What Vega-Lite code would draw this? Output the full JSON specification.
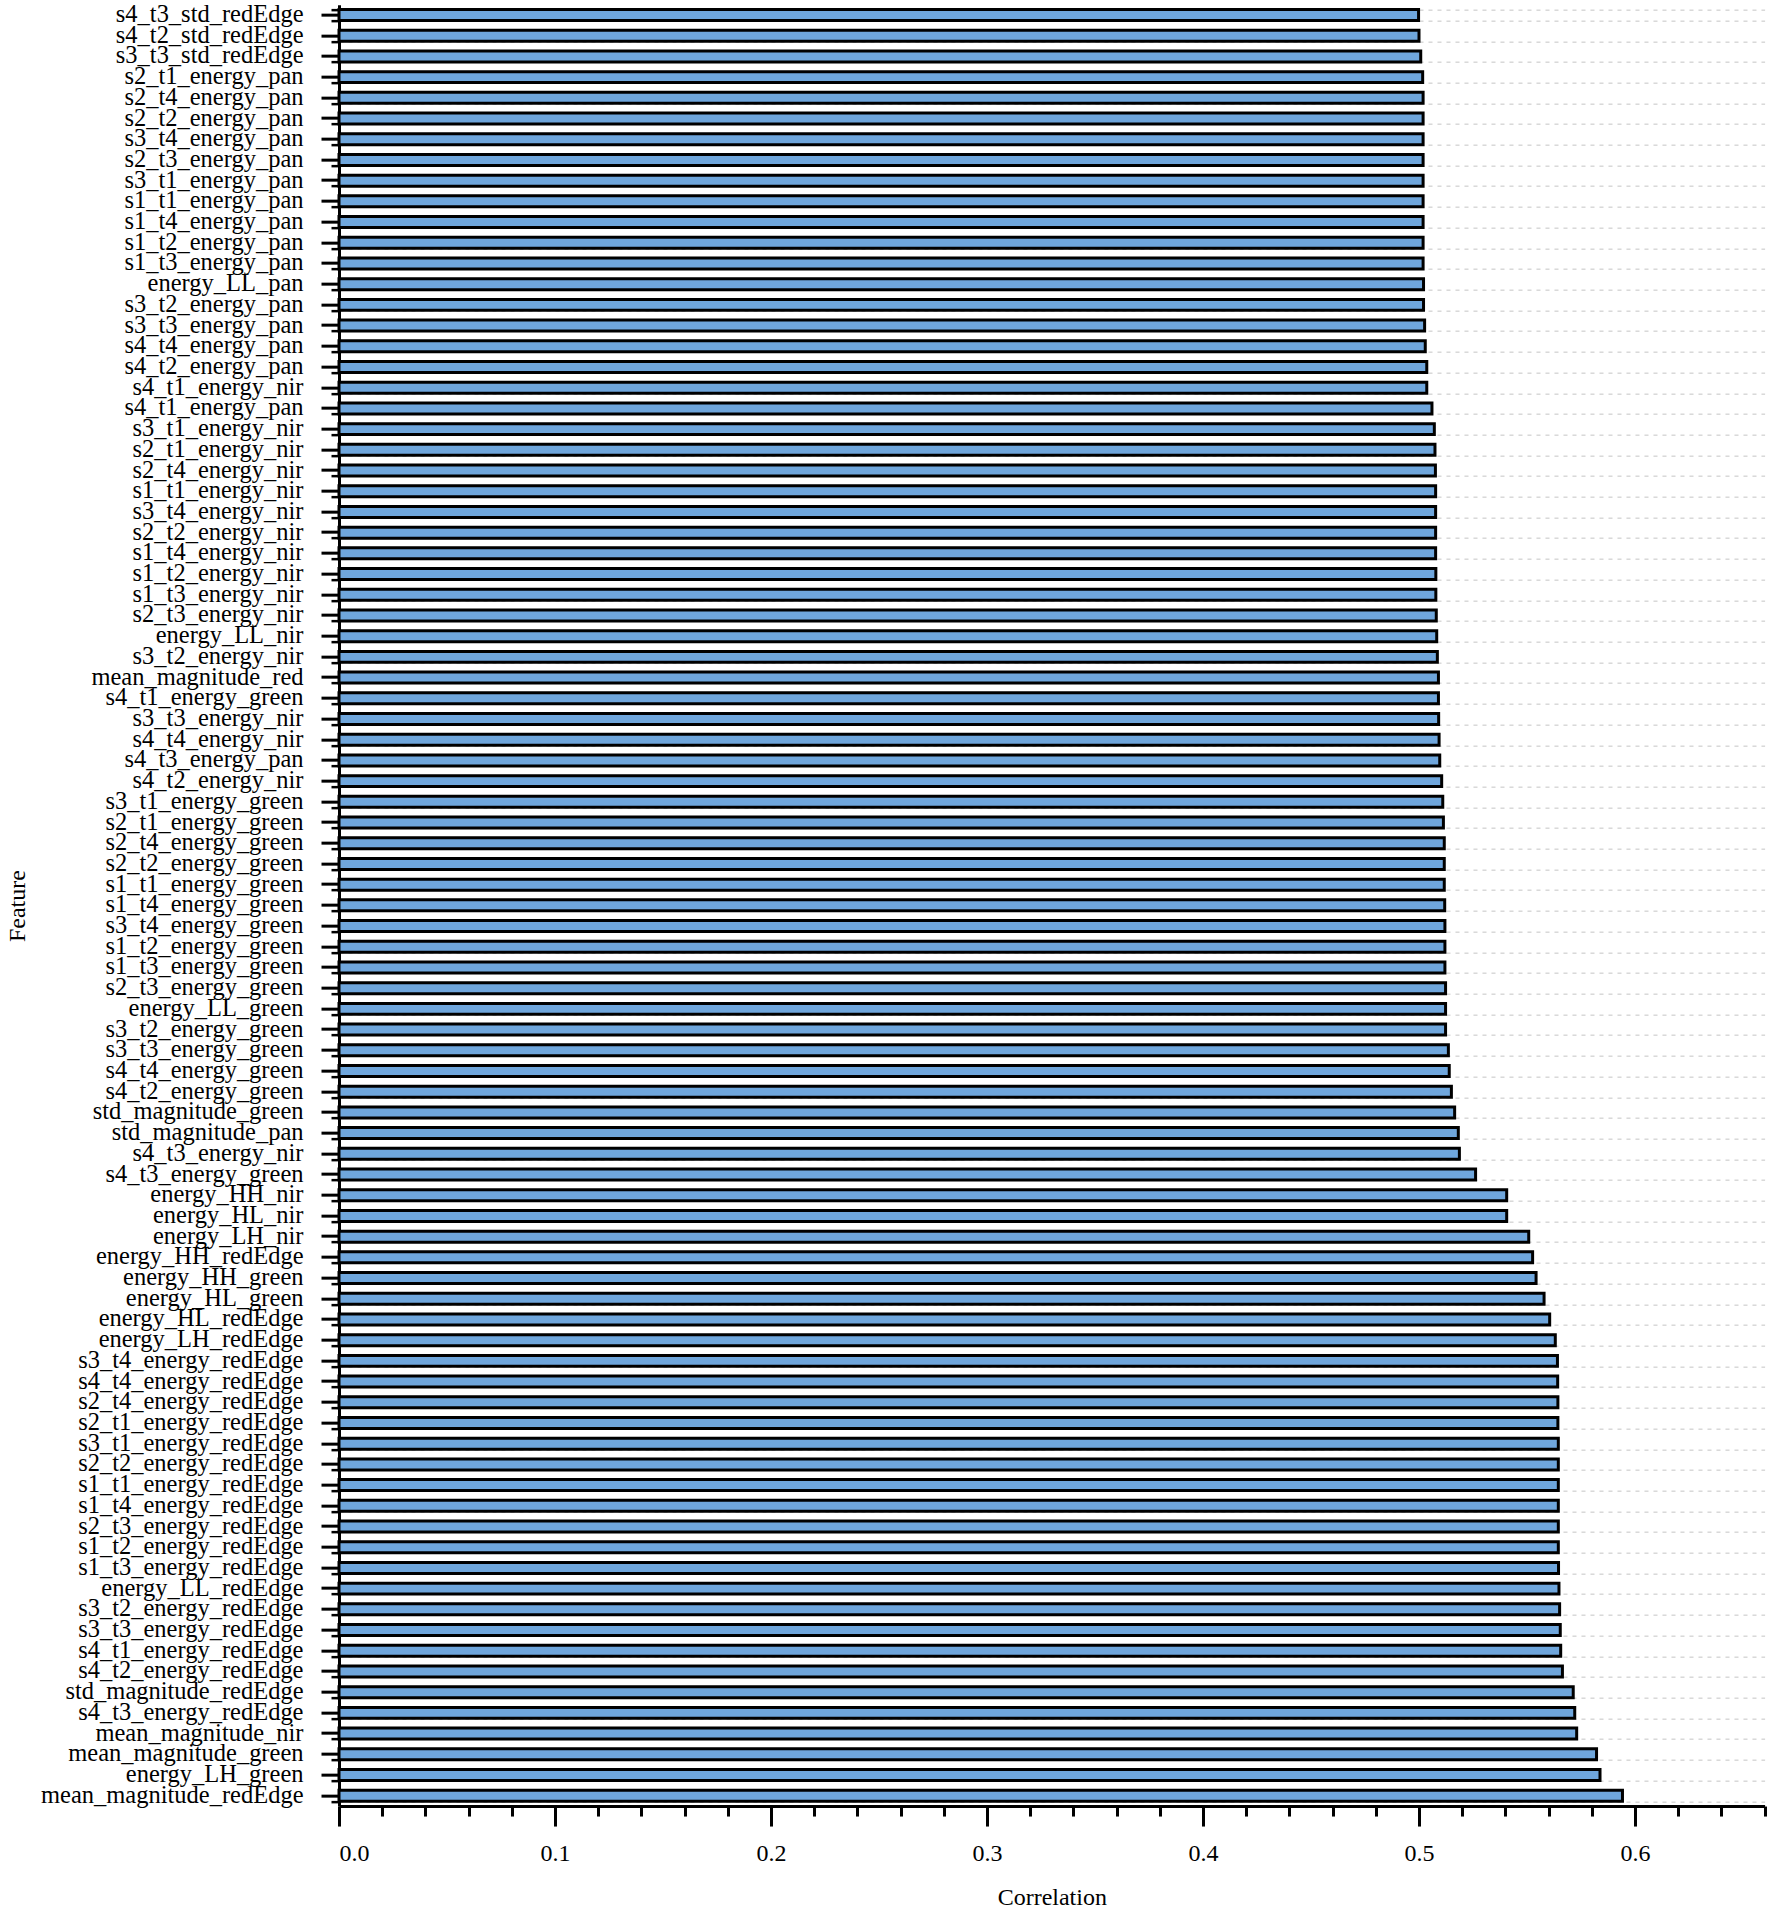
{
  "$schema": "https://vega.github.io/schema/vega-lite/v6.json",
  "autosize": {"type": "none"},
  "padding": {"left": 339, "top": 4.65, "right": 7.4, "bottom": 105},
  "width": 1425.6,
  "height": 1801.4,
  "background": "white",
  "config": {
    "view": {"stroke": null},
    "font": "Liberation Serif",
    "axis": {"labelFont": "Liberation Serif", "titleFont": "Liberation Serif", "labelColor": "black", "titleColor": "black", "tickColor": "black", "domainColor": "black"}
  },
  "data": {"values": [
    {"Feature": "s4_t3_std_redEdge", "Correlation": 0.4998},
    {"Feature": "s4_t2_std_redEdge", "Correlation": 0.5000},
    {"Feature": "s3_t3_std_redEdge", "Correlation": 0.5008},
    {"Feature": "s2_t1_energy_pan", "Correlation": 0.5017},
    {"Feature": "s2_t4_energy_pan", "Correlation": 0.5019},
    {"Feature": "s2_t2_energy_pan", "Correlation": 0.5019},
    {"Feature": "s3_t4_energy_pan", "Correlation": 0.5019},
    {"Feature": "s2_t3_energy_pan", "Correlation": 0.5019},
    {"Feature": "s3_t1_energy_pan", "Correlation": 0.5019},
    {"Feature": "s1_t1_energy_pan", "Correlation": 0.5019},
    {"Feature": "s1_t4_energy_pan", "Correlation": 0.5019},
    {"Feature": "s1_t2_energy_pan", "Correlation": 0.5019},
    {"Feature": "s1_t3_energy_pan", "Correlation": 0.5019},
    {"Feature": "energy_LL_pan", "Correlation": 0.5021},
    {"Feature": "s3_t2_energy_pan", "Correlation": 0.5021},
    {"Feature": "s3_t3_energy_pan", "Correlation": 0.5026},
    {"Feature": "s4_t4_energy_pan", "Correlation": 0.5029},
    {"Feature": "s4_t2_energy_pan", "Correlation": 0.5036},
    {"Feature": "s4_t1_energy_nir", "Correlation": 0.5036},
    {"Feature": "s4_t1_energy_pan", "Correlation": 0.5060},
    {"Feature": "s3_t1_energy_nir", "Correlation": 0.5071},
    {"Feature": "s2_t1_energy_nir", "Correlation": 0.5074},
    {"Feature": "s2_t4_energy_nir", "Correlation": 0.5076},
    {"Feature": "s1_t1_energy_nir", "Correlation": 0.5077},
    {"Feature": "s3_t4_energy_nir", "Correlation": 0.5077},
    {"Feature": "s2_t2_energy_nir", "Correlation": 0.5077},
    {"Feature": "s1_t4_energy_nir", "Correlation": 0.5077},
    {"Feature": "s1_t2_energy_nir", "Correlation": 0.5078},
    {"Feature": "s1_t3_energy_nir", "Correlation": 0.5078},
    {"Feature": "s2_t3_energy_nir", "Correlation": 0.5080},
    {"Feature": "energy_LL_nir", "Correlation": 0.5082},
    {"Feature": "s3_t2_energy_nir", "Correlation": 0.5085},
    {"Feature": "mean_magnitude_red", "Correlation": 0.5090},
    {"Feature": "s4_t1_energy_green", "Correlation": 0.5090},
    {"Feature": "s3_t3_energy_nir", "Correlation": 0.5091},
    {"Feature": "s4_t4_energy_nir", "Correlation": 0.5093},
    {"Feature": "s4_t3_energy_pan", "Correlation": 0.5096},
    {"Feature": "s4_t2_energy_nir", "Correlation": 0.5105},
    {"Feature": "s3_t1_energy_green", "Correlation": 0.5110},
    {"Feature": "s2_t1_energy_green", "Correlation": 0.5113},
    {"Feature": "s2_t4_energy_green", "Correlation": 0.5117},
    {"Feature": "s2_t2_energy_green", "Correlation": 0.5117},
    {"Feature": "s1_t1_energy_green", "Correlation": 0.5117},
    {"Feature": "s1_t4_energy_green", "Correlation": 0.5119},
    {"Feature": "s3_t4_energy_green", "Correlation": 0.5120},
    {"Feature": "s1_t2_energy_green", "Correlation": 0.5120},
    {"Feature": "s1_t3_energy_green", "Correlation": 0.5120},
    {"Feature": "s2_t3_energy_green", "Correlation": 0.5123},
    {"Feature": "energy_LL_green", "Correlation": 0.5123},
    {"Feature": "s3_t2_energy_green", "Correlation": 0.5123},
    {"Feature": "s3_t3_energy_green", "Correlation": 0.5136},
    {"Feature": "s4_t4_energy_green", "Correlation": 0.5140},
    {"Feature": "s4_t2_energy_green", "Correlation": 0.5150},
    {"Feature": "std_magnitude_green", "Correlation": 0.5165},
    {"Feature": "std_magnitude_pan", "Correlation": 0.5182},
    {"Feature": "s4_t3_energy_nir", "Correlation": 0.5187},
    {"Feature": "s4_t3_energy_green", "Correlation": 0.5262},
    {"Feature": "energy_HH_nir", "Correlation": 0.5406},
    {"Feature": "energy_HL_nir", "Correlation": 0.5406},
    {"Feature": "energy_LH_nir", "Correlation": 0.5508},
    {"Feature": "energy_HH_redEdge", "Correlation": 0.5526},
    {"Feature": "energy_HH_green", "Correlation": 0.5542},
    {"Feature": "energy_HL_green", "Correlation": 0.5579},
    {"Feature": "energy_HL_redEdge", "Correlation": 0.5605},
    {"Feature": "energy_LH_redEdge", "Correlation": 0.5631},
    {"Feature": "s3_t4_energy_redEdge", "Correlation": 0.5641},
    {"Feature": "s4_t4_energy_redEdge", "Correlation": 0.5642},
    {"Feature": "s2_t4_energy_redEdge", "Correlation": 0.5643},
    {"Feature": "s2_t1_energy_redEdge", "Correlation": 0.5643},
    {"Feature": "s3_t1_energy_redEdge", "Correlation": 0.5645},
    {"Feature": "s2_t2_energy_redEdge", "Correlation": 0.5645},
    {"Feature": "s1_t1_energy_redEdge", "Correlation": 0.5645},
    {"Feature": "s1_t4_energy_redEdge", "Correlation": 0.5645},
    {"Feature": "s2_t3_energy_redEdge", "Correlation": 0.5645},
    {"Feature": "s1_t2_energy_redEdge", "Correlation": 0.5645},
    {"Feature": "s1_t3_energy_redEdge", "Correlation": 0.5646},
    {"Feature": "energy_LL_redEdge", "Correlation": 0.5648},
    {"Feature": "s3_t2_energy_redEdge", "Correlation": 0.5651},
    {"Feature": "s3_t3_energy_redEdge", "Correlation": 0.5654},
    {"Feature": "s4_t1_energy_redEdge", "Correlation": 0.5656},
    {"Feature": "s4_t2_energy_redEdge", "Correlation": 0.5664},
    {"Feature": "std_magnitude_redEdge", "Correlation": 0.5714},
    {"Feature": "s4_t3_energy_redEdge", "Correlation": 0.5721},
    {"Feature": "mean_magnitude_nir", "Correlation": 0.5730},
    {"Feature": "mean_magnitude_green", "Correlation": 0.5822},
    {"Feature": "energy_LH_green", "Correlation": 0.5838},
    {"Feature": "mean_magnitude_redEdge", "Correlation": 0.5942}
  ]},
  "resolve": {"axis": {"x": "independent", "y": "independent"}},
  "layer": [
    {
      "mark": {"type": "bar", "fill": "transparent", "strokeWidth": 0},
      "encoding": {
        "y": {
          "field": "Feature", "type": "nominal", "sort": null,
          "scale": {"paddingInner": 0.47, "paddingOuter": 0.235},
          "axis": {"orient": "left", "tickBand": "extent", "labels": false, "title": null, "domain": false,
                   "ticks": true, "tickSize": 8, "tickWidth": 2.5, "tickColor": "black",
                   "grid": true, "gridColor": "#c4c4c4", "gridDash": [4, 5], "gridWidth": 1}
        },
        "x": {
          "field": "Correlation", "type": "quantitative",
          "scale": {"domain": [0, 0.66], "nice": false, "zero": true},
          "axis": {"orient": "bottom", "values": [0.02, 0.04, 0.06, 0.08, 0.12, 0.14, 0.16, 0.18, 0.22, 0.24, 0.26, 0.28, 0.32, 0.34, 0.36, 0.38, 0.42, 0.44, 0.46, 0.48, 0.52, 0.54, 0.56, 0.58, 0.62, 0.64, 0.66],
                   "labels": false, "title": null, "domain": false, "tickSize": 10, "tickWidth": 3, "tickColor": "black", "grid": false}
        }
      }
    },
    {
      "mark": {"type": "bar", "fill": "#6fa6dc", "stroke": "black", "strokeWidth": 3},
      "encoding": {
        "y": {
          "field": "Feature", "type": "nominal", "sort": null,
          "scale": {"paddingInner": 0.47, "paddingOuter": 0.235},
          "axis": {"orient": "left", "title": "Feature", "titleFontSize": 24, "titleFontWeight": "normal",
                   "titleX": -321.5, "titleY": 901, "titleAngle": 270, "titleAlign": "center", "titleBaseline": "middle",
                   "labelFontSize": 24.5, "labelPadding": 18, "labelLimit": 500, "tickSize": 18, "tickWidth": 3,
                   "domainWidth": 3, "grid": false}
        },
        "x": {
          "field": "Correlation", "type": "quantitative",
          "scale": {"domain": [0, 0.66], "nice": false, "zero": true},
          "axis": {"orient": "bottom", "values": [0, 0.1, 0.2, 0.3, 0.4, 0.5, 0.6], "format": ".1f",
                   "tickSize": 20, "tickWidth": 3, "domainWidth": 3, "labelFontSize": 24, "labelPadding": 15,
                   "title": "Correlation", "titleFontSize": 24, "titleFontWeight": "normal", "titlePadding": 20, "grid": false}
        }
      }
    }
  ]
}
